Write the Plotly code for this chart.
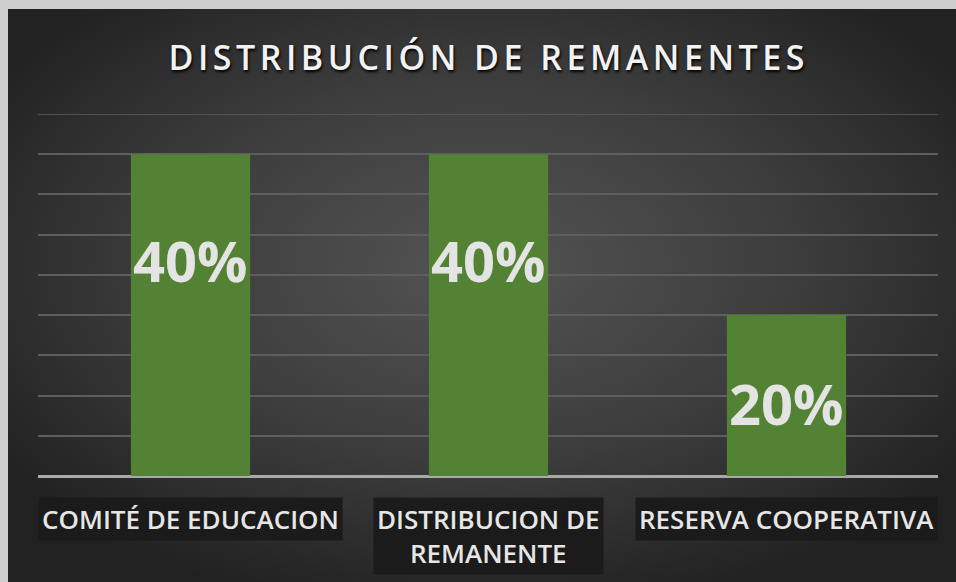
import base64
import plotly.graph_objects as go

# data
categorias = ["COMITÉ DE EDUCACION", "DISTRIBUCION DE<br>REMANENTE", "RESERVA COOPERATIVA"]
porcentajes = [40, 40, 20]
etiquetas = ["40%", "40%", "20%"]
# where the big % labels sit (axis units), as in the original
etiqueta_y = [26.9, 26.9, 9.1]
titulo = "DISTRIBUCIÓN DE REMANENTES"

W, H = 956, 582
ML, MR, MT, MB = 38, 18, 114, 106
pw, ph = W - ML - MR, H - MT - MB

# radial background as svg
svg = ("<svg xmlns='http://www.w3.org/2000/svg' width='948' height='573' preserveAspectRatio='none'>"
       "<defs><radialGradient id='g' cx='50%' cy='45%' r='62%'>"
       "<stop offset='0' stop-color='#545454'/><stop offset='0.55' stop-color='#3c3c3c'/>"
       "<stop offset='1' stop-color='#212121'/></radialGradient></defs>"
       "<rect width='948' height='573' fill='url(#g)'/></svg>")
src = "data:image/svg+xml;base64," + base64.b64encode(svg.encode()).decode()

fig = go.Figure()
fig.add_trace(go.Bar(
    x=categorias, y=porcentajes, width=0.4,
    marker=dict(color="#548235", line=dict(width=0)),
    hoverinfo="skip",
))

# big labels on bars
for c, t, yy in zip(categorias, etiquetas, etiqueta_y):
    fig.add_annotation(x=c, y=yy, text=t, showarrow=False, xanchor="center", yanchor="middle",
                       font=dict(family="Open Sans", size=56, color="#e4e4e4", weight="bold"))

# category labels with dark boxes
for c in categorias:
    fig.add_annotation(x=c, y=0, yref="y", text=c, showarrow=False, xanchor="center", yanchor="top",
                       yshift=-21, bgcolor="#1b1b1b", borderpad=3, align="center",
                       font=dict(family="Open Sans", size=26, color="#e6e6e6", weight=600))

# title
fig.add_annotation(x=0.5, xref="paper", y=1 + (MT - 57) / ph, yref="paper", text=titulo,
                   showarrow=False, xanchor="center", yanchor="middle",
                   font=dict(family="Open Sans", size=34, color="#f2f2f2", weight=600,
                             shadow="1px 2px 3px #000000"))

# top gridline (45%) that plotly leaves out at the range edge
fig.add_shape(type="line", xref="paper", x0=0, x1=1, y0=45, y1=45,
              line=dict(color="#5e5e5e", width=1.5), layer="below")

fig.add_layout_image(dict(
    source=src, xref="paper", yref="paper",
    x=-(ML - 8) / pw, y=1 + (MT - 9) / ph,
    sizex=(W - 8) / pw, sizey=(H - 9) / ph,
    sizing="stretch", layer="below", xanchor="left", yanchor="top",
))

fig.update_layout(
    width=W, height=H,
    margin=dict(l=ML, r=MR, t=MT, b=MB),
    paper_bgcolor="#cfcfcf",
    plot_bgcolor="rgba(0,0,0,0)",
    showlegend=False,
    bargap=0.6,
)
fig.update_xaxes(showticklabels=False, showgrid=False, zeroline=False, showline=False, ticks="")
fig.update_yaxes(range=[0, 45], dtick=5, showticklabels=False, gridcolor="#5e5e5e", gridwidth=1.5,
                 zeroline=True, zerolinecolor="#a9a9a9", zerolinewidth=2.5, showline=False)

# no page margin; spread the title letters like the original
js = """
document.body.style.margin = '0';
document.querySelectorAll('text.annotation-text').forEach(function (t) {
  if (t.textContent.indexOf('REMANENTES') >= 0) { t.style.letterSpacing = '4.5px'; }
});
"""
fig.write_html("out.html", post_script=js, config={"displayModeBar": False})
